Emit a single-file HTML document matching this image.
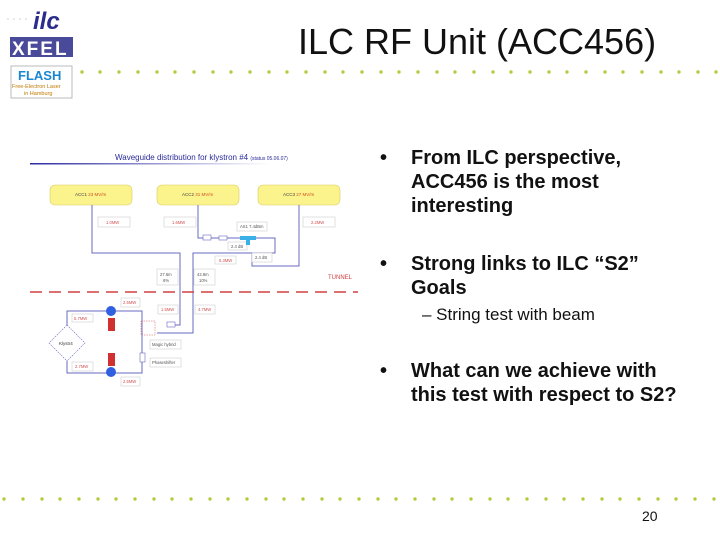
<!DOCTYPE html>
<html><head><style>
body{margin:0;width:720px;height:540px;background:#fff;overflow:hidden;position:relative;font-family:"Liberation Sans",sans-serif}
.t{position:absolute;white-space:nowrap}
.b{font-weight:bold;font-size:20px;color:#111;line-height:24px}
</style></head><body>
<svg width="720" height="540" style="position:absolute;left:0;top:0">
<defs><linearGradient id="g" x1="0" x2="1"><stop offset="0" stop-color="#2a2aa0"/><stop offset="1" stop-color="#fff"/></linearGradient></defs>
<g fill="#b5cc3f">
<circle cx="82" cy="72" r="1.7"/><circle cx="100" cy="72" r="1.7"/>
<circle cx="119" cy="72" r="1.7"/><circle cx="138" cy="72" r="1.7"/><circle cx="157" cy="72" r="1.7"/><circle cx="175" cy="72" r="1.7"/><circle cx="194" cy="72" r="1.7"/><circle cx="213" cy="72" r="1.7"/><circle cx="231" cy="72" r="1.7"/><circle cx="250" cy="72" r="1.7"/><circle cx="269" cy="72" r="1.7"/><circle cx="287" cy="72" r="1.7"/><circle cx="306" cy="72" r="1.7"/><circle cx="325" cy="72" r="1.7"/><circle cx="343" cy="72" r="1.7"/><circle cx="362" cy="72" r="1.7"/><circle cx="381" cy="72" r="1.7"/><circle cx="399" cy="72" r="1.7"/><circle cx="418" cy="72" r="1.7"/><circle cx="437" cy="72" r="1.7"/><circle cx="455" cy="72" r="1.7"/><circle cx="474" cy="72" r="1.7"/><circle cx="493" cy="72" r="1.7"/><circle cx="511" cy="72" r="1.7"/><circle cx="530" cy="72" r="1.7"/><circle cx="549" cy="72" r="1.7"/><circle cx="567" cy="72" r="1.7"/><circle cx="586" cy="72" r="1.7"/><circle cx="605" cy="72" r="1.7"/><circle cx="623" cy="72" r="1.7"/><circle cx="642" cy="72" r="1.7"/><circle cx="661" cy="72" r="1.7"/><circle cx="679" cy="72" r="1.7"/><circle cx="698" cy="72" r="1.7"/><circle cx="716" cy="72" r="1.7"/>
</g>
<g fill="#b5cc3f">
<circle cx="4" cy="499" r="1.7"/><circle cx="23" cy="499" r="1.7"/><circle cx="42" cy="499" r="1.7"/><circle cx="60" cy="499" r="1.7"/><circle cx="79" cy="499" r="1.7"/><circle cx="98" cy="499" r="1.7"/><circle cx="116" cy="499" r="1.7"/><circle cx="135" cy="499" r="1.7"/><circle cx="154" cy="499" r="1.7"/><circle cx="172" cy="499" r="1.7"/><circle cx="191" cy="499" r="1.7"/><circle cx="210" cy="499" r="1.7"/><circle cx="228" cy="499" r="1.7"/><circle cx="247" cy="499" r="1.7"/><circle cx="266" cy="499" r="1.7"/><circle cx="284" cy="499" r="1.7"/><circle cx="303" cy="499" r="1.7"/><circle cx="322" cy="499" r="1.7"/><circle cx="340" cy="499" r="1.7"/><circle cx="359" cy="499" r="1.7"/><circle cx="378" cy="499" r="1.7"/><circle cx="396" cy="499" r="1.7"/><circle cx="415" cy="499" r="1.7"/><circle cx="434" cy="499" r="1.7"/><circle cx="452" cy="499" r="1.7"/><circle cx="471" cy="499" r="1.7"/><circle cx="490" cy="499" r="1.7"/><circle cx="508" cy="499" r="1.7"/><circle cx="527" cy="499" r="1.7"/><circle cx="546" cy="499" r="1.7"/><circle cx="564" cy="499" r="1.7"/><circle cx="583" cy="499" r="1.7"/><circle cx="602" cy="499" r="1.7"/><circle cx="620" cy="499" r="1.7"/><circle cx="639" cy="499" r="1.7"/><circle cx="658" cy="499" r="1.7"/><circle cx="676" cy="499" r="1.7"/><circle cx="695" cy="499" r="1.7"/><circle cx="714" cy="499" r="1.7"/>
</g>
<g fill="#ccc"><circle cx="8" cy="19" r="0.8"/><circle cx="14" cy="19" r="0.8"/><circle cx="20" cy="19" r="0.8"/><circle cx="26" cy="19" r="0.8"/></g>
<text x="33" y="29" font-family="Liberation Sans" font-style="italic" font-weight="bold" font-size="24" fill="#2b2d8c">ilc</text>
<rect x="10" y="37" width="63" height="20" fill="#4a4a9a"/>
<text x="12" y="55" font-family="Liberation Sans" font-weight="bold" font-size="19" fill="#fff" letter-spacing="2">XFEL</text>
<rect x="11" y="66" width="61" height="32" fill="#fff" stroke="#bbb"/>
<text x="18" y="80" font-family="Liberation Sans" font-weight="bold" font-size="13" fill="#1a88d0">FLASH</text>
<text x="12" y="88" font-family="Liberation Sans" font-size="5.5" fill="#c07a00">Free-Electron Laser</text>
<text x="24" y="95" font-family="Liberation Sans" font-size="5.5" fill="#c07a00">in Hamburg</text>
<text x="115" y="160" font-family="Liberation Sans" font-size="8" fill="#2a2a9a">Waveguide distribution for klystron #4 <tspan font-size="5">(status 05.06.07)</tspan></text>
<rect x="30" y="163" width="240" height="1.5" fill="url(#g)"/>
<g fill="#fbf38c" stroke="#d8cc60" stroke-width="0.6">
<rect x="50" y="185" width="82" height="20" rx="5"/><rect x="157" y="185" width="82" height="20" rx="5"/><rect x="258" y="185" width="82" height="20" rx="5"/></g>
<g font-family="Liberation Sans" font-size="4.5" fill="#444"><text x="75" y="196">ACC1 <tspan fill="#d05020">23 MV/m</tspan></text><text x="182" y="196">ACC2 <tspan fill="#d05020">31 MV/m</tspan></text><text x="283" y="196">ACC3 <tspan fill="#d05020">27 MV/m</tspan></text></g>
<g fill="none" stroke="#6868c0" stroke-width="1">
<path d="M92 205V253H180V325H172"/>
<path d="M198 205V238H275V253H193V333H157"/>
<path d="M299 205V266H252V253"/>
<path d="M67 325V311H142V373H67V361"/>
</g>
<line x1="30" y1="292" x2="358" y2="292" stroke="#d04040" stroke-width="1.5" stroke-dasharray="12,7"/>
<text x="328" y="279" font-family="Liberation Sans" font-size="6" fill="#d04040">TUNNEL</text>
<g fill="#fff" stroke="#ccc" stroke-width="0.6">
<rect x="98" y="217" width="32" height="10"/><rect x="164" y="217" width="32" height="10"/><rect x="303" y="217" width="32" height="10"/><rect x="237" y="222" width="30" height="9"/>
<rect x="228" y="242" width="19" height="8"/><rect x="252" y="253" width="20" height="9"/><rect x="215" y="256" width="21" height="8"/>
<rect x="157" y="269" width="21" height="16"/><rect x="194" y="269" width="21" height="16"/>
<rect x="121" y="298" width="19" height="9"/><rect x="72" y="314" width="21" height="8"/><rect x="158" y="305" width="20" height="9"/><rect x="195" y="305" width="20" height="9"/>
<rect x="72" y="362" width="21" height="9"/><rect x="121" y="377" width="19" height="9"/><rect x="150" y="340" width="31" height="9"/><rect x="150" y="358" width="31" height="9"/>
</g>
<g font-family="Liberation Sans" font-size="4.2" fill="#d05050">
<text x="106" y="224">1.0MW</text><text x="172" y="224">1.6MW</text><text x="311" y="224">2.2MW</text>
<text x="219" y="262">5.3MW</text><text x="123" y="304">2.5MW</text><text x="74" y="320">5.7MW</text><text x="161" y="311">1.5MW</text><text x="198" y="311">4.7MW</text><text x="75" y="368">2.7MW</text><text x="123" y="383">2.5MW</text></g>
<g font-family="Liberation Sans" font-size="4.2" fill="#555">
<text x="240" y="228">AS1 7.4dBm</text><text x="231" y="248">2.4 dB</text><text x="255" y="259">2.4 dB</text>
<text x="160" y="276">27.6m</text><text x="163" y="282">6%</text><text x="197" y="276">42.8m</text><text x="199" y="282">10%</text>
<text x="152" y="346">Magic hybrid</text><text x="152" y="364">Phaseshifter</text></g>
<rect x="240" y="236" width="16" height="4" fill="#3ab0e8"/><rect x="246" y="240" width="4" height="5" fill="#3ab0e8"/>
<rect x="203" y="235" width="8" height="5" fill="#fff" stroke="#6868c0" stroke-width="0.6"/><rect x="219" y="236" width="8" height="4" fill="#fff" stroke="#6868c0" stroke-width="0.6"/>
<rect x="167" y="322" width="8" height="5" fill="#fff" stroke="#6868c0" stroke-width="0.6"/>
<rect x="140" y="353" width="5" height="9" fill="#fff" stroke="#6868c0" stroke-width="0.6"/>
<rect x="141" y="321" width="14" height="14" fill="none" stroke="#d05050" stroke-width="0.5" stroke-dasharray="1.5,1"/>
<path d="M67 325L85 343L67 361L49 343Z" fill="#fff" stroke="#6868c0" stroke-width="0.6" stroke-dasharray="1.5,1"/>
<text x="59" y="345" font-family="Liberation Sans" font-size="4.5" fill="#333">Klystr4</text>
<circle cx="111" cy="311" r="5" fill="#3060e0"/><circle cx="111" cy="372" r="5" fill="#3060e0"/>
<rect x="108" y="318" width="7" height="13" fill="#d03030"/><rect x="108" y="353" width="7" height="13" fill="#d03030"/>
</svg>
<div class="t" style="left:298px;top:21px;font-size:36px;color:#111">ILC RF Unit (ACC456)</div>
<div class="t b" style="left:380px;top:146px">•</div>
<div class="t b" style="left:411px;top:146px">From ILC perspective,<br>ACC456 is the most<br>interesting</div>
<div class="t b" style="left:380px;top:252px">•</div>
<div class="t b" style="left:411px;top:252px">Strong links to ILC “S2”<br>Goals</div>
<div class="t" style="left:422px;top:305px;font-size:17px;color:#111">– String test with beam</div>
<div class="t b" style="left:380px;top:359px">•</div>
<div class="t b" style="left:411px;top:359px">What can we achieve with<br>this test with respect to S2?</div>
<div class="t" style="left:642px;top:508px;font-size:14px;color:#111">20</div>
</body></html>
